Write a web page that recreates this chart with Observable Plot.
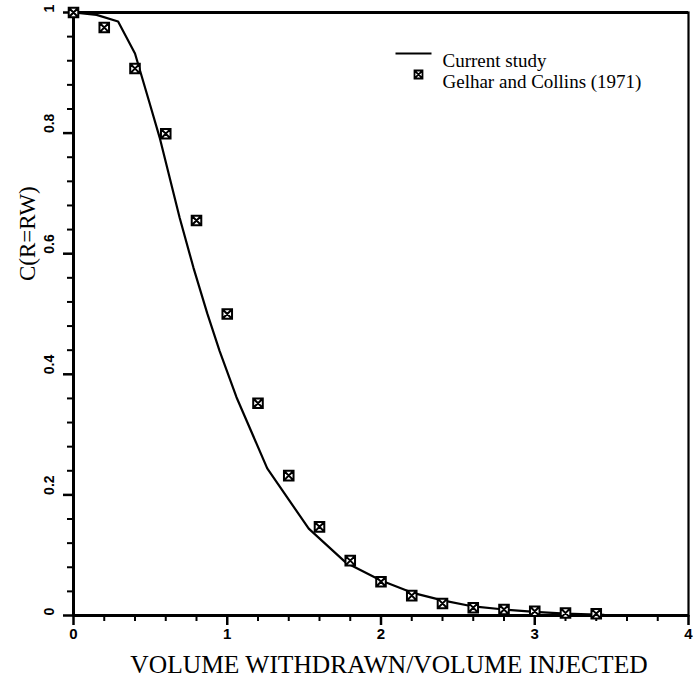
<!DOCTYPE html>
<html>
<head>
<meta charset="utf-8">
<script src="https://cdn.jsdelivr.net/npm/d3@7"></script>
<script src="https://cdn.jsdelivr.net/npm/@observablehq/plot@0.6"></script>
<style>
  html, body { margin: 0; padding: 0; background: white; }
</style>
</head>
<body>
<div id="chart"></div>
<script>
// Gelhar and Collins (1971) points
const xGelhar = [0, 0.2, 0.4, 0.6, 0.8, 1.0, 1.2, 1.4, 1.6, 1.8, 2.0, 2.2, 2.4, 2.6, 2.8, 3.0, 3.2, 3.4];
const yGelhar = [1.0, 0.975, 0.907, 0.799, 0.655, 0.5, 0.352, 0.232, 0.147, 0.091, 0.056, 0.033, 0.02, 0.013, 0.01, 0.007, 0.004, 0.003];

// Current study curve
const xCurrent = [0, 0.15, 0.29, 0.4, 0.49, 0.56, 0.69, 0.78, 0.87, 0.95, 1.06, 1.26, 1.53, 1.77, 2.0, 2.2, 2.4, 2.6, 2.8, 3.0, 3.2, 3.45];
const yCurrent = [1.0, 0.996, 0.985, 0.932, 0.854, 0.793, 0.66, 0.577, 0.501, 0.439, 0.362, 0.244, 0.144, 0.088, 0.058, 0.038, 0.025, 0.015, 0.01, 0.006, 0.003, 0.001];

// Ticks and labels
const xMajor = [0, 1, 2, 3, 4];
const xMinor = [0.2, 0.4, 0.6, 0.8, 1.2, 1.4, 1.6, 1.8, 2.2, 2.4, 2.6, 2.8, 3.2, 3.4, 3.6, 3.8];
const yMajor = [0, 0.2, 0.4, 0.6, 0.8, 1];
const yMajorLabels = ["0", "0.2", "0.4", "0.6", "0.8", "1"];
const yMinor = [0.04, 0.08, 0.12, 0.16, 0.24, 0.28, 0.32, 0.36, 0.44, 0.48, 0.52, 0.56, 0.64, 0.68, 0.72, 0.76, 0.84, 0.88, 0.92, 0.96];

const xTitle = "VOLUME WITHDRAWN/VOLUME INJECTED";
const yTitle = "C(R=RW)";
const legendLabels = ["Current study", "Gelhar and Collins (1971)"];

const squareX = {
  draw(ctx, size) {
    const s = Math.sqrt(size) / 2;
    ctx.moveTo(-s, -s); ctx.lineTo(s, -s); ctx.lineTo(s, s); ctx.lineTo(-s, s); ctx.closePath();
    ctx.moveTo(-s, -s); ctx.lineTo(s, s);
    ctx.moveTo(s, -s); ctx.lineTo(-s, s);
  }
};
const hLine = {
  draw(ctx, size) {
    const r = Math.sqrt(size / Math.PI);
    ctx.moveTo(-r, 0); ctx.lineTo(r, 0);
  }
};

const tickFont = "'Liberation Sans', Arial, sans-serif";
const serif = "'Liberation Serif', 'Times New Roman', serif";

const chart = Plot.plot({
  width: 694,
  height: 681,
  marginLeft: 73,
  marginRight: 6,
  marginTop: 12,
  marginBottom: 66,
  style: { background: "white", fontFamily: serif, color: "black" },
  x: { domain: [0, 4], label: null },
  y: { domain: [0, 1], label: null },
  marks: [
    // tick lines (no tick text)
    Plot.axisY({ ticks: yMinor, tickSize: 6, stroke: "black", strokeWidth: 2, fill: "none", label: null }),
    Plot.axisY({ ticks: yMajor, tickSize: 10, stroke: "black", strokeWidth: 2.5, fill: "none", label: null }),
    Plot.axisX({ ticks: xMinor, tickSize: 6, stroke: "black", strokeWidth: 2, fill: "none", label: null }),
    Plot.axisX({ ticks: xMajor, tickSize: 10, stroke: "black", strokeWidth: 2.5, fill: "none", label: null }),
    Plot.frame({ stroke: "black", strokeWidth: 2.2 }),
    Plot.ruleY([0, 1], { stroke: "black", strokeWidth: 3 }),
    Plot.ruleX([0], { stroke: "black", strokeWidth: 3 }),
    // y tick labels (rotated)
    Plot.text(yMajor, {
      y: d => d, text: (d, i) => yMajorLabels[i], frameAnchor: "left", dx: -24,
      rotate: -90, fontSize: 14, fontWeight: "bold", fontFamily: tickFont
    }),
    // x tick labels
    Plot.text(xMajor, {
      x: d => d, text: d => String(d), frameAnchor: "bottom", dy: 23,
      fontSize: 15, fontWeight: "bold", fontFamily: tickFont
    }),
    // axis titles
    Plot.text([xTitle], {
      text: d => d, frameAnchor: "bottom", dx: 8, dy: 57, fontSize: 25.5, fontFamily: serif
    }),
    Plot.text([yTitle], {
      text: d => d, frameAnchor: "left", dx: -46, dy: -33, rotate: -90, fontSize: 23, fontFamily: serif
    }),
    // data
    Plot.line(xCurrent, { x: xCurrent, y: yCurrent, stroke: "black", strokeWidth: 2.2 }),
    Plot.dot(xGelhar, { x: xGelhar, y: yGelhar, symbol: squareX, r: 5.4, stroke: "black", strokeWidth: 2, fill: "white" }),
    // legend
    Plot.dot([legendLabels[0]], { frameAnchor: "top-left", dx: 340, dy: 41, symbol: hLine, r: 18, stroke: "black", strokeWidth: 2.2 }),
    Plot.dot([legendLabels[1]], { frameAnchor: "top-left", dx: 345, dy: 62, symbol: squareX, r: 4.5, stroke: "black", strokeWidth: 1.8, fill: "white" }),
    Plot.text([legendLabels[0]], {
      text: d => d, frameAnchor: "top-left", textAnchor: "start", dx: 369, dy: 41,
      fontSize: 19, fontFamily: serif
    }),
    Plot.text([legendLabels[1]], {
      text: d => d, frameAnchor: "top-left", textAnchor: "start", dx: 369, dy: 62,
      fontSize: 19, fontFamily: serif
    })
  ]
});
document.getElementById("chart").appendChild(chart);
</script>
</body>
</html>
